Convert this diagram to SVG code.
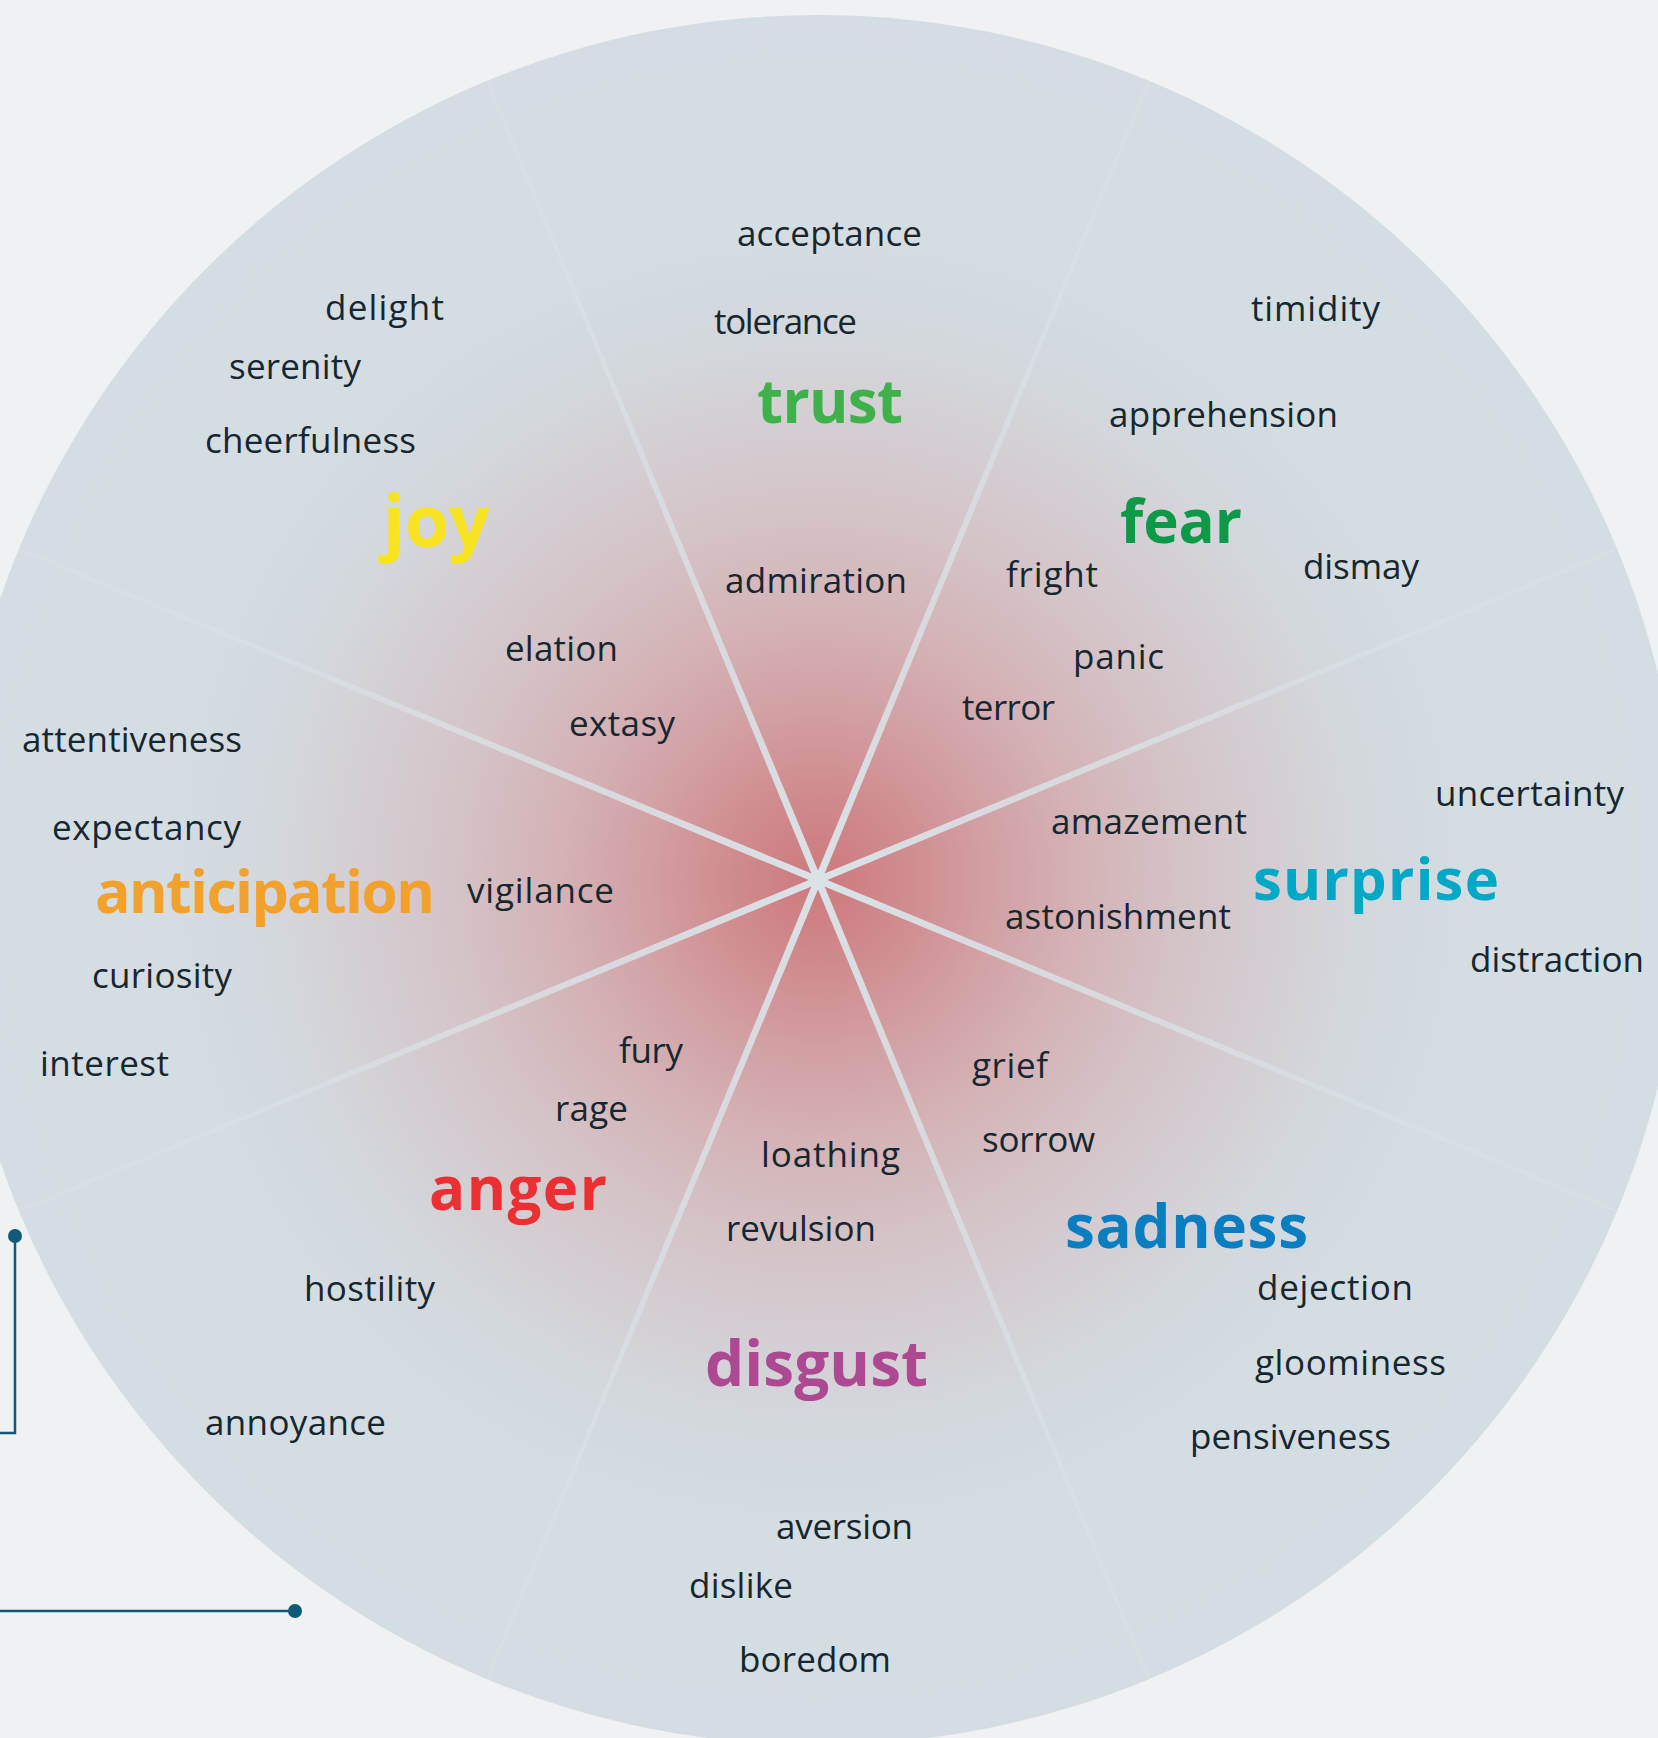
<svg xmlns="http://www.w3.org/2000/svg" width="1658" height="1738" viewBox="0 0 1658 1738">
  <defs>
    <radialGradient id="wheel" gradientUnits="userSpaceOnUse" cx="818" cy="880" r="865">
      <stop offset="0" stop-color="#cd797c"/>
      <stop offset="0.1" stop-color="#d08b8e"/>
      <stop offset="0.2" stop-color="#d2a0a3"/>
      <stop offset="0.3" stop-color="#d4b2b5"/>
      <stop offset="0.42" stop-color="#d4c3c7"/>
      <stop offset="0.53" stop-color="#d4ced3"/>
      <stop offset="0.62" stop-color="#d3d7dc"/>
      <stop offset="0.75" stop-color="#d3dde2"/>
      <stop offset="1" stop-color="#d3dee4"/>
    </radialGradient>
    <linearGradient id="spokeFade" gradientUnits="userSpaceOnUse" x1="-865" y1="0" x2="865" y2="0">
      <stop offset="0" stop-color="#dae3e8" stop-opacity="0.3"/>
      <stop offset="0.3" stop-color="#dae3e8" stop-opacity="0.75"/>
      <stop offset="0.5" stop-color="#dae3e8" stop-opacity="1"/>
      <stop offset="0.7" stop-color="#dae3e8" stop-opacity="0.75"/>
      <stop offset="1" stop-color="#dae3e8" stop-opacity="0.3"/>
    </linearGradient>
    <polygon id="diam" points="-865,-1.5 -450,-2.8 0,-3.6 450,-2.8 865,-1.5 865,1.5 450,2.8 0,3.6 -450,2.8 -865,1.5" fill="url(#spokeFade)"/>
    <style>
      .w { font-family: "Open Sans", "Noto Sans", "Liberation Sans", sans-serif; font-size: 35px; fill: #17262f; }
      .b { font-family: "Open Sans", "Noto Sans", "Liberation Sans", sans-serif; font-weight: 700; font-size: 60px; }
      .conn { fill: none; stroke: #0f5a78; stroke-width: 2.5; }
      .dot { fill: #0f5a78; }
    </style>
  </defs>

  <rect x="0" y="0" width="1658" height="1738" fill="#eff1f3"/>

  <g id="wheel-base">
    <circle cx="818" cy="880" r="865" fill="url(#wheel)"/>
    <g id="spokes">
      <use href="#diam" transform="translate(818 880) rotate(-22.5)"/>
      <use href="#diam" transform="translate(818 880) rotate(22.5)"/>
      <use href="#diam" transform="translate(818 880) rotate(67.5)"/>
      <use href="#diam" transform="translate(818 880) rotate(-67.5)"/>
    </g>
  </g>

  <g id="connectors">
    <path class="conn" d="M0 1433 H15 V1236"/>
    <circle class="dot" cx="15" cy="1236" r="7"/>
    <path class="conn" d="M0 1611 H295"/>
    <circle class="dot" cx="295" cy="1611" r="7"/>
  </g>

  <g id="trust">
    <text class="b" x="757" y="423" fill="#3fb14a" textLength="146">trust</text>
    <text class="w" x="737" y="246" textLength="185">acceptance</text>
    <text class="w" x="714" y="334" textLength="143">tolerance</text>
    <text class="w" x="725" y="593" textLength="182">admiration</text>
  </g>

  <g id="joy">
    <text class="b" x="383" y="547" fill="#f7e322" style="font-size:72px" textLength="107">joy</text>
    <text class="w" x="325" y="320" textLength="119">delight</text>
    <text class="w" x="229" y="379" textLength="132">serenity</text>
    <text class="w" x="205" y="453" textLength="211">cheerfulness</text>
    <text class="w" x="505" y="661" textLength="113">elation</text>
    <text class="w" x="569" y="736" textLength="106">extasy</text>
  </g>

  <g id="fear">
    <text class="b" x="1120" y="543" fill="#0c9a48" textLength="122">fear</text>
    <text class="w" x="1251" y="321" textLength="129">timidity</text>
    <text class="w" x="1109" y="427" textLength="229">apprehension</text>
    <text class="w" x="1303" y="579" textLength="116">dismay</text>
    <text class="w" x="1006" y="587" textLength="92">fright</text>
    <text class="w" x="1073" y="669" textLength="91">panic</text>
    <text class="w" x="962" y="720" textLength="93">terror</text>
  </g>

  <g id="surprise">
    <text class="b" x="1253" y="900" fill="#00a8c8" style="font-size:58px" textLength="246">surprise</text>
    <text class="w" x="1435" y="806" textLength="189">uncertainty</text>
    <text class="w" x="1051" y="834" textLength="196">amazement</text>
    <text class="w" x="1005" y="929" textLength="226">astonishment</text>
    <text class="w" x="1470" y="972" textLength="174">distraction</text>
  </g>

  <g id="anticipation">
    <text class="b" x="95" y="913" fill="#f3a12d" style="font-size:59px" textLength="340">anticipation</text>
    <text class="w" x="22" y="752" textLength="220">attentiveness</text>
    <text class="w" x="52" y="840" textLength="189">expectancy</text>
    <text class="w" x="467" y="903" textLength="147">vigilance</text>
    <text class="w" x="92" y="988" textLength="140">curiosity</text>
    <text class="w" x="40" y="1076" textLength="129">interest</text>
  </g>

  <g id="anger">
    <text class="b" x="429" y="1210" fill="#ec2f32" textLength="178">anger</text>
    <text class="w" x="619" y="1063" textLength="64">fury</text>
    <text class="w" x="555" y="1121" textLength="73">rage</text>
    <text class="w" x="304" y="1301" textLength="131">hostility</text>
    <text class="w" x="205" y="1435" textLength="181">annoyance</text>
  </g>

  <g id="sadness">
    <text class="b" x="1065" y="1248" fill="#0a7ec0" textLength="243">sadness</text>
    <text class="w" x="972" y="1078" textLength="76">grief</text>
    <text class="w" x="982" y="1152" textLength="113">sorrow</text>
    <text class="w" x="1257" y="1300" textLength="156">dejection</text>
    <text class="w" x="1255" y="1375" textLength="191">gloominess</text>
    <text class="w" x="1190" y="1449" textLength="201">pensiveness</text>
  </g>

  <g id="disgust">
    <text class="b" x="705" y="1386" fill="#ad4892" style="font-size:62px" textLength="223">disgust</text>
    <text class="w" x="761" y="1167" textLength="139">loathing</text>
    <text class="w" x="726" y="1241" textLength="150">revulsion</text>
    <text class="w" x="776" y="1539" textLength="137">aversion</text>
    <text class="w" x="689" y="1598" textLength="104">dislike</text>
    <text class="w" x="739" y="1672" textLength="152">boredom</text>
  </g>
</svg>
